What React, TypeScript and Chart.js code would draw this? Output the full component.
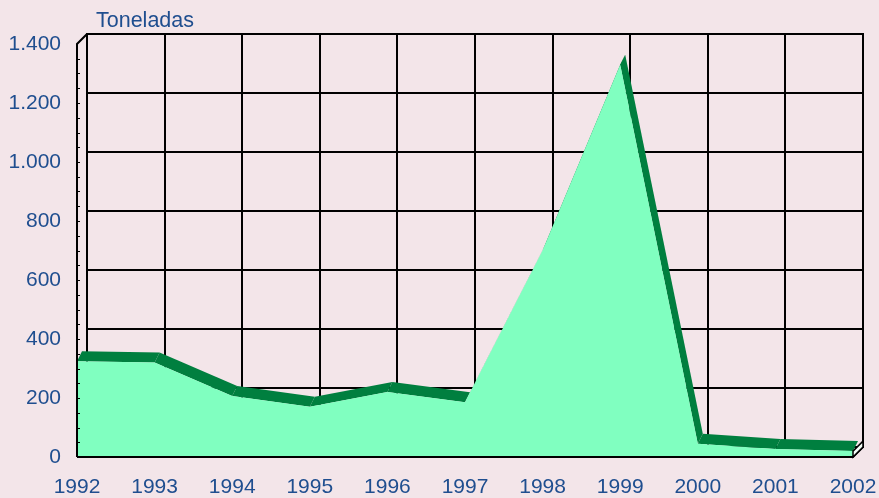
import React, { useEffect, useRef } from "react";
import { Chart, registerables } from "chart.js";

Chart.register(...registerables);

const years = ["1992", "1993", "1994", "1995", "1996", "1997", "1998", "1999", "2000", "2001", "2002"];
const toneladas = [325, 320, 207, 170, 220, 186, 700, 1330, 45, 27, 20];
const yTicks = [0, 200, 400, 600, 800, 1000, 1200, 1400];
const unitLabel = "Toneladas";

const DX = 10;
const DY = -10;
const BAND_DX = 5;
const BAND_DY = -10;
const TEXT = "#1F4E8F";
const FONT = 'Arial, "Liberation Sans", sans-serif';

function fmt(v: number): string {
  if (v >= 1000) {
    const th = Math.floor(v / 1000);
    const rest = String(v % 1000).padStart(3, "0");
    return `${th}.${rest}`;
  }
  return String(v);
}

const depthPlugin = {
  id: "depth3d",
  beforeDatasetsDraw(chart: any) {
    const { ctx, chartArea: a, scales } = chart;
    const x = scales.x;
    const y = scales.y;
    ctx.save();
    ctx.strokeStyle = "#000";
    ctx.lineWidth = 2;
    ctx.lineCap = "square";
    for (const t of yTicks) {
      const py = Math.round(y.getPixelForValue(t) + DY);
      ctx.beginPath();
      ctx.moveTo(a.left + DX, py);
      ctx.lineTo(a.right + DX, py);
      ctx.stroke();
    }
    for (let i = 0; i < years.length; i++) {
      const px = Math.round(x.getPixelForValue(i) + DX);
      ctx.beginPath();
      ctx.moveTo(px, a.top + DY);
      ctx.lineTo(px, a.bottom + DY);
      ctx.stroke();
    }
    // top surface band
    const pts = chart.getDatasetMeta(0).data.map((p: any) => ({ x: p.x, y: p.y }));
    ctx.fillStyle = "#007F3F";
    for (let i = 0; i < pts.length - 1; i++) {
      const p = pts[i];
      const q = pts[i + 1];
      ctx.beginPath();
      ctx.moveTo(p.x, p.y);
      ctx.lineTo(q.x, q.y);
      ctx.lineTo(q.x + BAND_DX, q.y + BAND_DY);
      ctx.lineTo(p.x + BAND_DX, p.y + BAND_DY);
      ctx.closePath();
      ctx.fill();
    }
    ctx.restore();
  },
  afterDatasetsDraw(chart: any) {
    const { ctx, chartArea: a, scales } = chart;
    const y = scales.y;
    ctx.save();
    ctx.strokeStyle = "#000";
    ctx.lineWidth = 2;
    // front left axis
    ctx.beginPath();
    ctx.moveTo(a.left, a.bottom);
    ctx.lineTo(a.left, a.top);
    ctx.lineTo(a.left + DX, a.top + DY);
    ctx.stroke();
    // floor front line
    ctx.beginPath();
    ctx.moveTo(a.left, a.bottom);
    ctx.lineTo(a.right, a.bottom);
    ctx.lineTo(a.right + DX, a.bottom + DY);
    ctx.stroke();
    // minor ticks every 50
    ctx.lineWidth = 1;
    for (let v = 50; v < 1400; v += 50) {
      const py = Math.round(y.getPixelForValue(v)) + 0.5;
      ctx.beginPath();
      ctx.moveTo(a.left, py);
      ctx.lineTo(a.left + 3, py);
      ctx.stroke();
    }
    // right side face of area at last category
    const pts = chart.getDatasetMeta(0).data;
    const last = pts[pts.length - 1];
    ctx.fillStyle = "#F4FFF8";
    ctx.lineWidth = 1.5;
    ctx.beginPath();
    ctx.moveTo(a.right, a.bottom);
    ctx.lineTo(a.right, last.y);
    ctx.lineTo(a.right + DX, last.y + DY);
    ctx.lineTo(a.right + DX, a.bottom + DY);
    ctx.closePath();
    ctx.fill();
    ctx.stroke();
    // unit label
    ctx.fillStyle = TEXT;
    ctx.font = `21.5px ${FONT}`;
    ctx.textAlign = "left";
    ctx.textBaseline = "alphabetic";
    ctx.fillText(unitLabel, 96, 27);
    ctx.restore();
  },
};

export default function App() {
  const ref = useRef<HTMLCanvasElement | null>(null);
  useEffect(() => {
    if (!ref.current) return;
    const chart = new Chart(ref.current, {
      type: "line",
      data: {
        labels: years,
        datasets: [
          {
            label: unitLabel,
            data: toneladas,
            fill: "origin",
            backgroundColor: "#80FFC0",
            borderWidth: 0,
            borderColor: "rgba(0,0,0,0)",
            pointRadius: 0,
            tension: 0,
          },
        ],
      },
      options: {
        responsive: false,
        animation: false,
        layout: { padding: { top: 44, right: 26, left: 0, bottom: 0 } },
        plugins: { legend: { display: false }, tooltip: { enabled: false } },
        scales: {
          x: {
            type: "category",
            offset: false,
            grid: { display: false, drawTicks: false },
            border: { display: false },
            ticks: {
              autoSkip: false,
              maxRotation: 0,
              padding: 18,
              color: TEXT,
              font: { family: FONT, size: 21 },
            },
            afterFit: (s: any) => {
              s.height = 41;
              s.paddingLeft = 0;
              s.paddingRight = 0;
            },
          },
          y: {
            min: 0,
            max: 1400,
            grid: { display: false, drawTicks: false },
            border: { display: false },
            ticks: {
              stepSize: 200,
              padding: 16,
              color: TEXT,
              font: { family: FONT, size: 21 },
              callback: (v: any) => fmt(Number(v)),
            },
            afterFit: (s: any) => {
              s.width = 77;
              s.paddingTop = 0;
              s.paddingBottom = 0;
            },
          },
        },
      },
      plugins: [depthPlugin],
    });
    return () => chart.destroy();
  }, []);
  return (
    <div
      style={{
        position: "absolute",
        left: 0,
        top: 0,
        width: 879,
        height: 498,
        background: "#F3E5E9",
      }}
    >
      <canvas ref={ref} width={879} height={498} />
    </div>
  );
}
